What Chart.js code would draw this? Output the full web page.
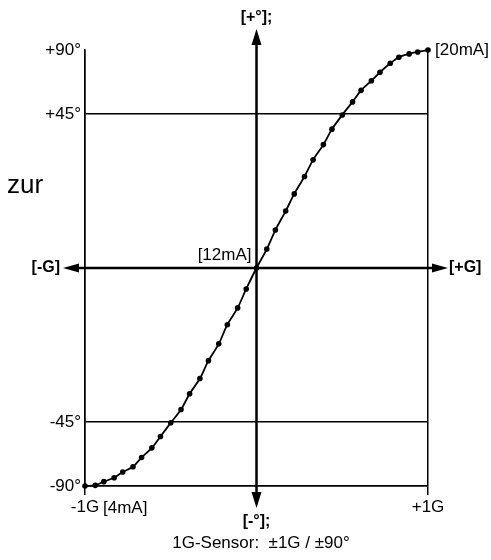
<!DOCTYPE html>
<html>
<head>
<meta charset="utf-8">
<script src="https://cdn.jsdelivr.net/npm/chart.js@4"></script>
<style>
  body { margin: 0; background: #fff; }
  #wrap { width: 491px; height: 560px; }
</style>
</head>
<body>
<div id="wrap"><canvas id="sensorChart"></canvas></div>
<script>
// acceleration in G (x) against sensor output, scaled so that +-1 = +-90deg
const gValues = [
  -1.00, -0.94, -0.89, -0.83, -0.78, -0.72, -0.67, -0.61, -0.56, -0.50,
  -0.44, -0.39, -0.33, -0.28, -0.22, -0.17, -0.11, -0.06, 0.00,
  0.06, 0.11, 0.17, 0.22, 0.28, 0.33, 0.39, 0.44, 0.50,
  0.56, 0.61, 0.67, 0.72, 0.78, 0.83, 0.89, 0.94, 1.00
];
const outputValues = [
  -1.000, -0.997, -0.980, -0.962, -0.936, -0.912, -0.869, -0.825, -0.773, -0.710,
  -0.649, -0.577, -0.507, -0.425, -0.348, -0.260, -0.183, -0.096, 0.000,
  0.087, 0.174, 0.261, 0.340, 0.420, 0.496, 0.566, 0.637, 0.702,
  0.762, 0.815, 0.859, 0.898, 0.939, 0.967, 0.982, 0.991, 1.000
];

const yTickValues = [-1, -0.7071, 0.7071, 1];
const yTickLabels = ['-90°', '-45°', '+45°', '+90°'];
const xTickValues = [-1, 1];
const xTickLabels = ['-1G', '+1G'];

const FONT = '"Liberation Sans", Arial, sans-serif';

function arrowHead(ctx, tipX, tipY, dx, dy, len, half) {
  const bx = tipX + dx * len, by = tipY + dy * len;
  ctx.beginPath();
  ctx.moveTo(tipX, tipY);
  ctx.lineTo(bx - dy * half, by + dx * half);
  ctx.lineTo(bx + dy * half, by - dx * half);
  ctx.closePath();
  ctx.fill();
}

// the two thick axes through zero, with arrow heads
const axisArrows = {
  id: 'axisArrows',
  beforeDatasetsDraw(chart) {
    const { ctx, scales: { x, y } } = chart;
    const x0 = x.getPixelForValue(0);
    const y0 = y.getPixelForValue(0);
    const left = x.left - 22, right = x.right + 20;
    const top = y.top - 21, bottom = y.bottom + 22;
    ctx.save();
    ctx.strokeStyle = '#000';
    ctx.fillStyle = '#000';
    ctx.lineWidth = 2.5;
    ctx.beginPath();
    ctx.moveTo(left + 10, y0);
    ctx.lineTo(right - 10, y0);
    ctx.moveTo(x0, top + 10);
    ctx.lineTo(x0, bottom - 10);
    ctx.stroke();
    arrowHead(ctx, left, y0, 1, 0, 16, 4.5);
    arrowHead(ctx, right, y0, -1, 0, 16, 4.5);
    arrowHead(ctx, x0, top, 0, 1, 16, 5);
    arrowHead(ctx, x0, bottom, 0, -1, 16, 5);
    ctx.restore();
  }
};

// free text around the diagram
const labelsPlugin = {
  id: 'labelsPlugin',
  afterDraw(chart) {
    const { ctx, scales: { x, y } } = chart;
    const x0 = x.getPixelForValue(0);
    const y0 = y.getPixelForValue(0);
    const put = (text, px, py, align, font) => {
      ctx.font = font;
      ctx.textAlign = align;
      ctx.fillText(text, px, py);
    };
    ctx.save();
    ctx.fillStyle = '#000';
    ctx.textBaseline = 'middle';
    put('[+°];', x0, y.top - 32, 'center', 'bold 16px ' + FONT);
    put('[-°];', x0, y.bottom + 36, 'center', 'bold 16px ' + FONT);
    put('[-G]', x.left - 25, y0, 'right', 'bold 16px ' + FONT);
    put('[+G]', x.right + 21, y0, 'left', 'bold 16px ' + FONT);
    put('[12mA]', x0 - 5, y0 - 13, 'right', '17px ' + FONT);
    put('[20mA]', x.right + 7, y.top, 'left', '17px ' + FONT);
    put('[4mA]', x.left + 18, y.bottom + 22, 'left', '17px ' + FONT);
    put('zur', 7, 186, 'left', '26px ' + FONT);
    put('1G-Sensor:  ±1G / ±90°', 261, 543, 'center', '17px ' + FONT);
    ctx.restore();
  }
};

new Chart(document.getElementById('sensorChart'), {
  type: 'scatter',
  data: {
    datasets: [{
      data: gValues.map((g, i) => ({ x: g, y: outputValues[i] })),
      showLine: true,
      tension: 0.3,
      borderColor: '#000',
      borderWidth: 1.8,
      pointRadius: 2.8,
      pointBackgroundColor: '#000',
      pointBorderWidth: 0,
      clip: false
    }]
  },
  options: {
    responsive: true,
    maintainAspectRatio: false,
    animation: false,
    layout: { padding: { top: 50, right: 63, left: 0, bottom: 0 } },
    plugins: {
      legend: { display: false },
      tooltip: { enabled: false }
    },
    scales: {
      x: {
        type: 'linear',
        min: -1,
        max: 1,
        afterFit: (scale) => { scale.height = 74; },
        afterBuildTicks: (scale) => { scale.ticks = xTickValues.map(v => ({ value: v })); },
        ticks: {
          color: '#000',
          font: { family: FONT, size: 17 },
          padding: 2,
          maxRotation: 0,
          callback: (value, index) => xTickLabels[index]
        },
        grid: { color: '#000', lineWidth: 1.5, tickLength: 9 },
        border: { color: '#000', width: 1.5 }
      },
      y: {
        type: 'linear',
        min: -1,
        max: 1,
        afterFit: (scale) => { scale.width = 85; },
        afterBuildTicks: (scale) => { scale.ticks = yTickValues.map(v => ({ value: v })); },
        ticks: {
          color: '#000',
          font: { family: FONT, size: 17 },
          padding: 4,
          callback: (value, index) => yTickLabels[index]
        },
        grid: {
          color: (c) => (c.tick && c.tick.value === 1 ? 'rgba(0,0,0,0)' : '#000'),
          lineWidth: 1.5,
          drawTicks: false
        },
        border: { color: '#000', width: 1.5 }
      }
    }
  },
  plugins: [axisArrows, labelsPlugin]
});
</script>
</body>
</html>
